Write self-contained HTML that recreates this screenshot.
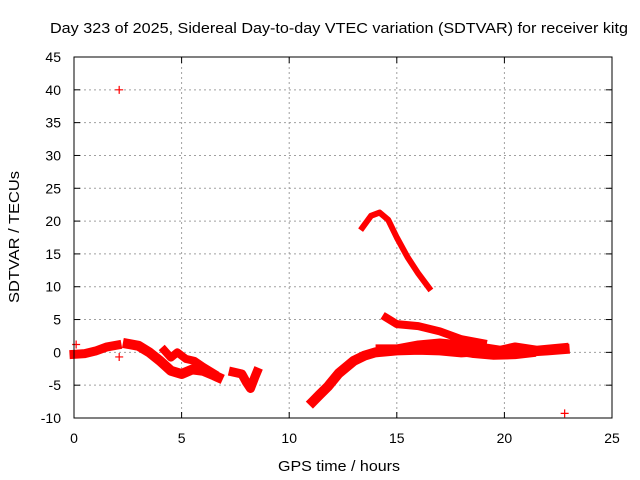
<!DOCTYPE html>
<html><head><meta charset="utf-8"><style>
body{margin:0;background:#fff}
svg{display:block;font-family:"Liberation Sans",sans-serif}
</style></head><body>
<svg id="chart" width="640" height="480">
<text x="339" y="33" text-anchor="middle" font-size="15" textLength="578" lengthAdjust="spacingAndGlyphs">Day 323 of 2025, Sidereal Day-to-day VTEC variation (SDTVAR) for receiver kitg</text>
<text x="339" y="471" text-anchor="middle" font-size="15" textLength="122" lengthAdjust="spacingAndGlyphs">GPS time / hours</text>
<text transform="translate(19,237) rotate(-90)" text-anchor="middle" font-size="15" textLength="132" lengthAdjust="spacingAndGlyphs">SDTVAR / TECUs</text>
<g id="grid"></g><g id="ticks"></g><g id="marks"></g>
<rect x="74" y="57" width="538" height="361" fill="none" stroke="#000" stroke-width="1"/>
</svg>
<script>
const xTicks=[0,5,10,15,20,25];
const yTicks=[-10,-5,0,5,10,15,20,25,30,35,40,45];
const trackA=[[0,-0.3],[0.5,-0.2],[1,0.2],[1.5,0.8],[2,1.1]];
const trackB=[[2.5,1.3],[3,1],[3.5,0],[4,-1.3],[4.5,-2.8],[5,-3.3],[5.5,-2.6],[6,-2.8],[6.5,-3.5],[6.7,-3.8]];
const trackB2=[[4.2,0.3],[4.5,-0.8],[4.8,0],[5.2,-1],[5.6,-1.3],[6,-2.2],[6.5,-3.2]];
const trackC=[[7.4,-3],[7.8,-3.3],[8,-4.5],[8.2,-5.5],[8.4,-3.8],[8.5,-3]];
const trackD=[[11.1,-7.5],[11.4,-6.5],[11.8,-5.2],[12.3,-3.2],[13,-1.3],[13.5,-0.5],[14,0],[15,0.3],[16,0.4],[17,0.3],[18,0],[19,0.2],[20,-0.1],[21,0.1],[22,0.3],[22.8,0.5]];
const trackD2=[[14.2,0.6],[15,0.6],[16,1.2],[17,1.5],[18,1.2],[19,0.8],[19.8,0.4],[20.5,0.9],[21.5,0.4],[22.8,0.8]];
const trackD3=[[17.5,0.2],[18.5,-0.3],[19.5,-0.6],[20.5,-0.5],[21.3,-0.2]];
const trackE=[[13.4,19],[13.8,20.8],[14.2,21.3],[14.6,20.2],[15,17.5],[15.5,14.5],[16,12],[16.5,9.8]];
const trackF=[[14.5,5.3],[15,4.3],[16,4],[17,3.2],[18,2],[19,1.4]];
const isolated=[[2.1,40],[22.8,-9.3],[0.1,1.2],[2.1,-0.7]];
const X=h=>74+h*(538/25);
const Y=v=>418-(v+10)*(361/55);
const NS="http://www.w3.org/2000/svg";
const grid=document.getElementById('grid'),ticks=document.getElementById('ticks'),marks=document.getElementById('marks');
function mk(t,a,p){const e=document.createElementNS(NS,t);for(const k in a)e.setAttribute(k,a[k]);p.appendChild(e);return e;}
xTicks.forEach(t=>{
 const x=X(t);
 if(t>0&&t<25){const g=mk('line',{x1:x,x2:x,y1:57,y2:418,stroke:'#a0a0a0','stroke-dasharray':'2,3'},grid);
 
 }
 mk('line',{x1:x,x2:x,y1:418,y2:412,stroke:'#000'},ticks);mk('line',{x1:x,x2:x,y1:57,y2:63,stroke:'#000'},ticks);
 const l=mk('text',{x:x,y:443,'text-anchor':'middle','font-size':'14'},ticks);l.textContent=t;
 
 
});
yTicks.forEach(t=>{
 const y=Y(t);
 if(t>-10&&t<45){const g=mk('line',{x1:74,x2:612,y1:y,y2:y,stroke:'#a0a0a0','stroke-dasharray':'2,3'},grid);
 
 }
 mk('line',{x1:74,x2:80,y1:y,y2:y,stroke:'#000'},ticks);mk('line',{x1:612,x2:606,y1:y,y2:y,stroke:'#000'},ticks);
 const l=mk('text',{x:61,y:y+5,'text-anchor':'end','font-size':'14'},ticks);l.textContent=t;
 
 
});
function track(arr,w,name){
 const p=mk('polyline',{points:arr.map(d=>X(d[0])+','+Y(d[1])).join(' '),fill:'none',stroke:'#f00','stroke-width':w,'stroke-linejoin':'round','stroke-linecap':'square'},marks);
 
 
}
track(trackA,9,'series-track-a');
track(trackB,10,'series-track-b');
track(trackB2,8,'series-track-b2');
track(trackC,9,'series-track-c');
track(trackD,10,'series-track-d');
track(trackD2,8,'series-track-d2');
track(trackD3,7,'series-track-d3');
track(trackE,6,'series-track-e');
track(trackF,8,'series-track-f');
isolated.forEach(d=>{
 const x=X(d[0]),y=Y(d[1]);
 const p=mk('path',{d:`M${x-4},${y}H${x+4}M${x},${y-4}V${y+4}`,stroke:'#f00','stroke-width':1.2},marks);
 
 
});
</script>
</body></html>
